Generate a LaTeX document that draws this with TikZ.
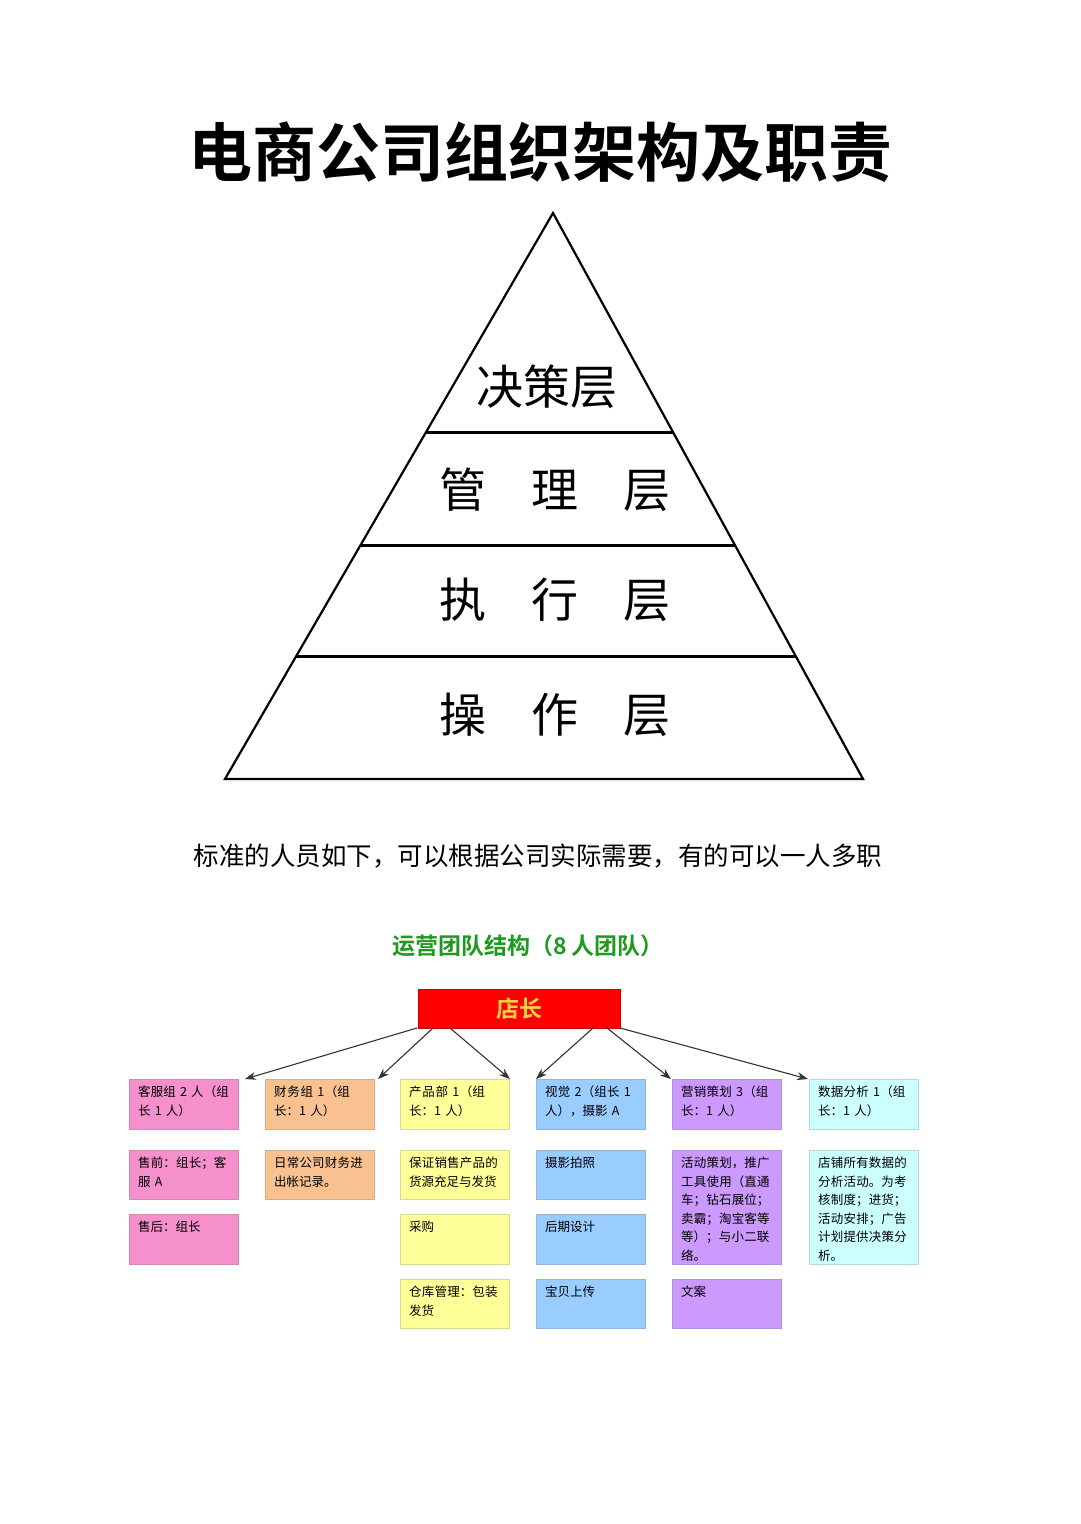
\documentclass[tikz,border=0pt]{standalone}
\usepackage{fontspec}
\setmainfont{Noto Sans CJK SC}
\newfontfamily\cjkb{Noto Sans CJK SC Bold}
\XeTeXlinebreaklocale "zh"
\XeTeXlinebreakskip=0pt plus 1pt
\usetikzlibrary{arrows.meta}
\definecolor{cpink}{HTML}{F590CC}
\definecolor{corange}{HTML}{F9C090}
\definecolor{cyellow}{HTML}{FFFF99}
\definecolor{cblue}{HTML}{99CCFF}
\definecolor{cpurple}{HTML}{CC99FF}
\definecolor{ccyan}{HTML}{CCFFFF}
\definecolor{cgreen}{HTML}{1E9A1E}
\definecolor{cgold}{HTML}{FFD040}
\tikzset{
  bx/.style={draw=#1!70!gray, fill=#1, line width=1pt, anchor=north west, minimum width=109pt, inner sep=0pt},
  bxtext/.style={anchor=north west, text width=93pt, align=left, font=\fontsize{12.5}{18.5}\selectfont, inner sep=0pt},
  arr/.style={-{Stealth[length=11pt,width=8pt]}, line width=1.1pt, draw=black!80},
  lay/.style={font=\fontsize{47}{47}\selectfont}
}
\begin{document}
\begin{tikzpicture}[x=1pt,y=-1pt]
\useasboundingbox (0,0) rectangle (1080,1524);
\node[font=\cjkb\fontsize{64}{64}\selectfont] (title) at (540,152) {电商公司组织架构及职责};
\coordinate (apex) at (553,213);
\coordinate (bl) at (225,779);
\coordinate (br) at (863,779);
\draw[line width=2.2pt, line join=miter] (apex) -- (br) -- (bl) -- cycle;
\coordinate (l1) at (426,432); \coordinate (r1) at (673,432);
\coordinate (l2) at (360.6,545); \coordinate (r2) at (734.8,545);
\coordinate (l3) at (296.3,656); \coordinate (r3) at (795.6,656);
\draw[line width=3pt] (l1) -- (r1);
\draw[line width=3pt] (l2) -- (r2);
\draw[line width=3pt] (l3) -- (r3);
\node[lay] (p1) at (547,387) {决策层};
\node[lay] (p2) at (555,490) {管\hspace{0.95em}理\hspace{0.95em}层};
\node[lay] (p3) at (555,600) {执\hspace{0.95em}行\hspace{0.95em}层};
\node[lay] (p4) at (555,715) {操\hspace{0.95em}作\hspace{0.95em}层};
\node[font=\fontsize{25.5}{25.5}\selectfont] (sub) at (538,856) {标准的人员如下，可以根据公司实际需要，有的可以一人多职};
\node[font=\cjkb\fontsize{23}{23}\selectfont, text=cgreen] (gt) at (528,946) {运营团队结构（8 人团队）};
\node[fill=red, draw=red!80!black, minimum width=202pt, minimum height=39pt, anchor=north west, font=\cjkb\fontsize{23}{23}\selectfont, text=cgold] (boss) at (418,989) {店长};
\newcommand{\mybox}[6]{%
  \node[bx=#2, minimum height=#5pt] (#1) at (#3,#4) {};
  \node[bxtext] at ([xshift=9pt,yshift=-7pt]#1.north west) {#6};
}
\mybox{a1}{cpink}{129}{1079}{50}{客服组 2 人（组长 1 人）}
\mybox{a2}{cpink}{129}{1150}{49}{售前：组长；客服 A}
\mybox{a3}{cpink}{129}{1214}{50}{售后：组长}
\mybox{b1}{corange}{265}{1079}{50}{财务组 1（组长：1 人）}
\mybox{b2}{corange}{265}{1150}{49}{日常公司财务进出帐记录。}
\mybox{c1}{cyellow}{400}{1079}{50}{产品部 1（组长：1 人）}
\mybox{c2}{cyellow}{400}{1150}{49}{保证销售产品的货源充足与发货}
\mybox{c3}{cyellow}{400}{1214}{50}{采购}
\mybox{c4}{cyellow}{400}{1279}{49}{仓库管理：包装发货}
\mybox{d1}{cblue}{536}{1079}{50}{视觉 2（组长 1 人），摄影 A}
\mybox{d2}{cblue}{536}{1150}{49}{摄影拍照}
\mybox{d3}{cblue}{536}{1214}{50}{后期设计}
\mybox{d4}{cblue}{536}{1279}{49}{宝贝上传}
\mybox{e1}{cpurple}{672}{1079}{50}{营销策划 3（组长：1 人）}
\mybox{e2}{cpurple}{672}{1150}{114}{活动策划，推广工具使用（直通车；钻石展位；卖霸；淘宝客等等）；与小二联络。}
\mybox{e4}{cpurple}{672}{1279}{49}{文案}
\mybox{f1}{ccyan}{809}{1079}{50}{数据分析 1（组长：1 人）}
\mybox{f2}{ccyan}{809}{1150}{114}{店铺所有数据的分析活动。为考核制度；进货；活动安排；广告计划提供决策分析。}
\coordinate (s1) at (417,1028); \coordinate (s2) at (433,1028); \coordinate (s3) at (450,1028);
\coordinate (s4) at (593,1028); \coordinate (s5) at (607,1028); \coordinate (s6) at (620,1028);
\draw[arr] (s1) -- ([xshift=6pt]a1.north east);
\draw[arr] (s2) -- ([xshift=3pt]b1.north east);
\draw[arr] (s3) -- (c1.north east);
\draw[arr] (s4) -- (d1.north west);
\draw[arr] (s5) -- ([xshift=-1pt]e1.north west);
\draw[arr] (s6) -- ([xshift=-1pt]f1.north west);
\end{tikzpicture}
\end{document}
